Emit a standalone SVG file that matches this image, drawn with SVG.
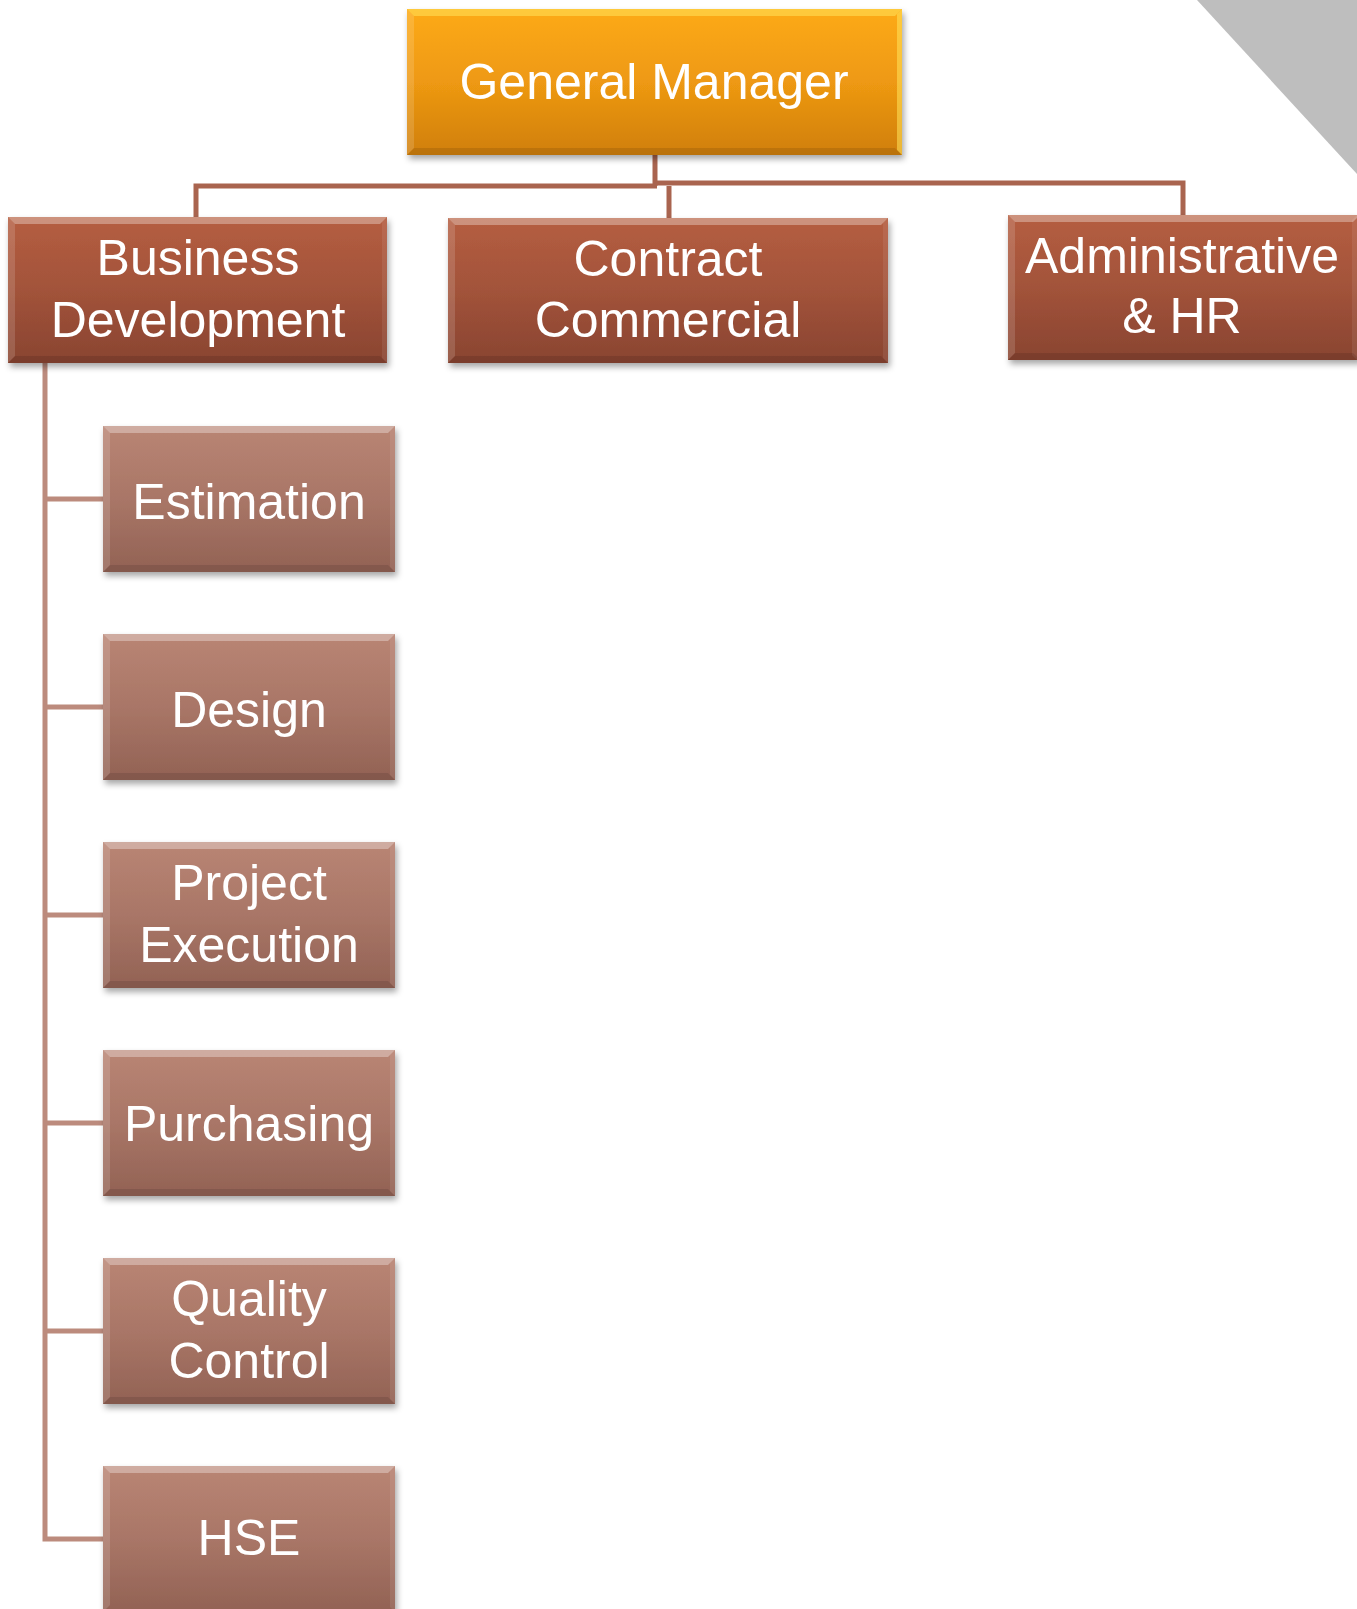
<svg xmlns="http://www.w3.org/2000/svg" width="1357" height="1609" viewBox="0 0 1357 1609">
<defs>
<linearGradient id="gGM" x1="0" y1="0" x2="0" y2="1">
<stop offset="0" stop-color="#FDAA18"/><stop offset="0.5" stop-color="#EE9912"/><stop offset="1" stop-color="#D07F0B"/>
</linearGradient>
<linearGradient id="gL2" x1="0" y1="0" x2="0" y2="1">
<stop offset="0" stop-color="#B55E41"/><stop offset="0.5" stop-color="#A2533A"/><stop offset="1" stop-color="#894431"/>
</linearGradient>
<linearGradient id="gCh" x1="0" y1="0" x2="0" y2="1">
<stop offset="0" stop-color="#B98574"/><stop offset="0.5" stop-color="#A97667"/><stop offset="1" stop-color="#926254"/>
</linearGradient>
<filter id="sh" x="-5%" y="-5%" width="112%" height="120%">
<feDropShadow dx="2" dy="4" stdDeviation="3" flood-color="#000" flood-opacity="0.35"/>
</filter>
</defs>
<style>
.lbl{font-family:"Liberation Sans",Arial,sans-serif;font-size:50px;fill:#FFFFFF;text-anchor:middle}
.bt{fill:#FFFFFF;fill-opacity:0.32}
.bl{fill:#FFFFFF;fill-opacity:0.14}
.br{fill:#FFFFFF;fill-opacity:0.08}
.bb{fill:#000000;fill-opacity:0.1}
.gmt{fill:#FFE45C;fill-opacity:0.55}
.c1{stroke:#A9644F;stroke-width:5;fill:none}
.c2{stroke:#BC8B7D;stroke-width:5;fill:none}
</style>
<polygon points="1197,0 1357,0 1357,174" fill="#BEBEBE"/>
<g id="connectors">
<path class="c1" d="M655,155 V186"/>
<path class="c1" d="M196,217 V186 H657"/>
<path class="c1" d="M669,186 V218"/>
<path class="c1" d="M655,183 H1183 V215"/>
<path class="c2" d="M45,363 V1539 H103"/>
<path class="c2" d="M45,499 H103"/>
<path class="c2" d="M45,707 H103"/>
<path class="c2" d="M45,915 H103"/>
<path class="c2" d="M45,1123 H103"/>
<path class="c2" d="M45,1331 H103"/>
</g>
<g id="node-gm">
<rect x="407" y="9" width="495" height="146" fill="url(#gGM)" filter="url(#sh)"/>
<polygon class="gmt" points="407,9 902,9 895,16 414,16"/>
<polygon class="bl" points="407,9 414,16 414,148 407,155"/>
<polygon class="gmt" points="902,9 902,155 897,150 897,14"/>
<polygon class="bb" points="407,155 902,155 895,148 414,148"/>
<text class="lbl" x="654" y="99">General Manager</text>
</g>
<g id="node-bd">
<rect x="8" y="217" width="379" height="146" fill="url(#gL2)" filter="url(#sh)"/>
<polygon class="bt" points="8,217 387,217 380,224 15,224"/>
<polygon class="bl" points="8,217 15,224 15,356 8,363"/>
<polygon class="br" points="387,217 387,363 382,358 382,222"/>
<polygon class="bb" points="8,363 387,363 380,356 15,356"/>
<text class="lbl" x="198" y="275">Business</text>
<text class="lbl" x="198" y="337">Development</text>
</g>
<g id="node-cc">
<rect x="448" y="218" width="440" height="145" fill="url(#gL2)" filter="url(#sh)"/>
<polygon class="bt" points="448,218 888,218 881,225 455,225"/>
<polygon class="bl" points="448,218 455,225 455,356 448,363"/>
<polygon class="br" points="888,218 888,363 883,358 883,223"/>
<polygon class="bb" points="448,363 888,363 881,356 455,356"/>
<text class="lbl" x="668" y="276">Contract</text>
<text class="lbl" x="668" y="337">Commercial</text>
</g>
<g id="node-admin">
<rect x="1008" y="215" width="352" height="145" fill="url(#gL2)" filter="url(#sh)"/>
<polygon class="bt" points="1008,215 1360,215 1353,222 1015,222"/>
<polygon class="bl" points="1008,215 1015,222 1015,353 1008,360"/>
<polygon class="br" points="1357,215 1357,360 1352,355 1352,220"/>
<polygon class="bb" points="1008,360 1360,360 1353,353 1015,353"/>
<text class="lbl" x="1182" y="273">Administrative</text>
<text class="lbl" x="1182" y="333">&amp; HR</text>
</g>
<g id="node-estimation">
<rect x="103" y="426" width="292" height="146" fill="url(#gCh)" filter="url(#sh)"/>
<polygon class="bt" points="103,426 395,426 388,433 110,433"/>
<polygon class="bl" points="103,426 110,433 110,565 103,572"/>
<polygon class="br" points="395,426 395,572 390,567 390,431"/>
<polygon class="bb" points="103,572 395,572 388,565 110,565"/>
<text class="lbl" x="249" y="519">Estimation</text>
</g>
<g id="node-design">
<rect x="103" y="634" width="292" height="146" fill="url(#gCh)" filter="url(#sh)"/>
<polygon class="bt" points="103,634 395,634 388,641 110,641"/>
<polygon class="bl" points="103,634 110,641 110,773 103,780"/>
<polygon class="br" points="395,634 395,780 390,775 390,639"/>
<polygon class="bb" points="103,780 395,780 388,773 110,773"/>
<text class="lbl" x="249" y="727">Design</text>
</g>
<g id="node-project">
<rect x="103" y="842" width="292" height="146" fill="url(#gCh)" filter="url(#sh)"/>
<polygon class="bt" points="103,842 395,842 388,849 110,849"/>
<polygon class="bl" points="103,842 110,849 110,981 103,988"/>
<polygon class="br" points="395,842 395,988 390,983 390,847"/>
<polygon class="bb" points="103,988 395,988 388,981 110,981"/>
<text class="lbl" x="249" y="900">Project</text>
<text class="lbl" x="249" y="962">Execution</text>
</g>
<g id="node-purchasing">
<rect x="103" y="1050" width="292" height="146" fill="url(#gCh)" filter="url(#sh)"/>
<polygon class="bt" points="103,1050 395,1050 388,1057 110,1057"/>
<polygon class="bl" points="103,1050 110,1057 110,1189 103,1196"/>
<polygon class="br" points="395,1050 395,1196 390,1191 390,1055"/>
<polygon class="bb" points="103,1196 395,1196 388,1189 110,1189"/>
<text class="lbl" x="249" y="1141">Purchasing</text>
</g>
<g id="node-quality">
<rect x="103" y="1258" width="292" height="146" fill="url(#gCh)" filter="url(#sh)"/>
<polygon class="bt" points="103,1258 395,1258 388,1265 110,1265"/>
<polygon class="bl" points="103,1258 110,1265 110,1397 103,1404"/>
<polygon class="br" points="395,1258 395,1404 390,1399 390,1263"/>
<polygon class="bb" points="103,1404 395,1404 388,1397 110,1397"/>
<text class="lbl" x="249" y="1316">Quality</text>
<text class="lbl" x="249" y="1378">Control</text>
</g>
<g id="node-hse">
<rect x="103" y="1466" width="292" height="146" fill="url(#gCh)" filter="url(#sh)"/>
<polygon class="bt" points="103,1466 395,1466 388,1473 110,1473"/>
<polygon class="bl" points="103,1466 110,1473 110,1605 103,1612"/>
<polygon class="br" points="395,1466 395,1612 390,1607 390,1471"/>
<text class="lbl" x="249" y="1555">HSE</text>
</g>
</svg>
